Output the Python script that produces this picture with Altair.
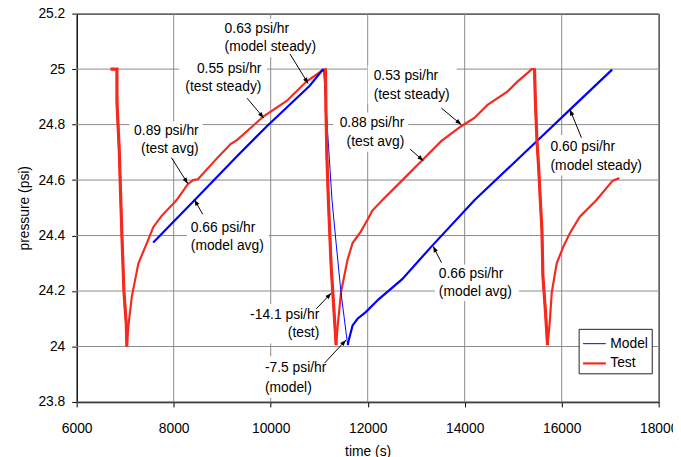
import math
import altair as alt
import pandas as pd

# ---------------- axes ----------------
X_DOMAIN = [6000, 18000]
Y_DOMAIN = [23.8, 25.2]
W, H = 589, 393
x_ticks = [6000, 8000, 10000, 12000, 14000, 16000, 18000]
y_ticks = [23.8, 24.0, 24.2, 24.4, 24.6, 24.8, 25.0, 25.2]

series_names = ["Model", "Test"]
series_colors = ["#0000FF", "#F52A1F"]
series_widths = [1.0, 2.2]

# ---------------- Test (red) ----------------
test_drop1_x = [6700, 6830, 6831, 6880, 6900, 6933, 6974, 7023, 7035]
test_drop1_y = [25.0, 25.0, 24.88, 24.70, 24.58, 24.40, 24.20, 24.08, 24.0]
test_rise1_x = [7035, 7070, 7137, 7273, 7477, 7579, 7748, 8057, 8292, 8400, 8500,
                8900, 9174, 9311, 9855, 10330, 10737, 11063, 11130]
test_rise1_y = [24.0, 24.08, 24.18, 24.30, 24.385, 24.43, 24.47, 24.527, 24.585, 24.60, 24.603,
                24.68, 24.73, 24.745, 24.83, 24.885, 24.955, 24.995, 25.0]
test_drop2_x = [11130, 11140, 11160, 11190, 11247, 11281, 11334, 11349]
test_drop2_y = [25.0, 24.85, 24.68, 24.527, 24.29, 24.195, 24.05, 24.005]
test_rise2_x = [11349, 11383, 11450, 11587, 11689, 11858, 11994, 12096, 12300, 12707,
                13115, 13522, 13930, 14201, 14472, 14880, 15083, 15322, 15380, 15440]
test_rise2_y = [24.005, 24.076, 24.195, 24.314, 24.373, 24.414, 24.456, 24.49, 24.527, 24.598,
                24.67, 24.741, 24.794, 24.824, 24.871, 24.919, 24.954, 24.99, 25.0, 25.0]
test_drop3_x = [15440, 15458, 15491, 15525, 15560, 15593, 15613, 15662, 15709]
test_drop3_y = [25.0, 24.883, 24.741, 24.646, 24.527, 24.42, 24.254, 24.136, 24.005]
test_rise3_x = [15709, 15749, 15796, 15898, 16035, 16171, 16375, 16713, 17053, 17190]
test_rise3_y = [24.005, 24.076, 24.195, 24.30, 24.36, 24.409, 24.468, 24.527, 24.598, 24.607]

# ---------------- Model (blue) ----------------
model_rise1_x = [7579, 8429, 9311, 9922, 10805, 11063, 11090]
model_rise1_y = [24.375, 24.527, 24.687, 24.794, 24.94, 24.996, 25.0]
model_drop1_x = [11090, 11265, 11349, 11450, 11587]
model_drop1_y = [25.0, 24.527, 24.373, 24.195, 24.005]
model_rise2_x = [11587, 11620, 11689, 11791, 11960, 12231, 12707, 13318, 14201, 15491, 16171, 17040]
model_rise2_y = [24.005, 24.03, 24.076, 24.10, 24.124, 24.171, 24.242, 24.361, 24.527, 24.741, 24.854, 24.998]

# ---------------- annotations ----------------
ann_left_text = ["0.63 psi/hr", "(model steady)", "0.66 psi/hr", "(model avg)",
                 "0.53 psi/hr", "(test steady)", "-7.5 psi/hr", "(model)",
                 "0.66 psi/hr", "(model avg)", "0.60 psi/hr", "(model steady)"]
ann_left_x = [9050, 9050, 8353, 8353, 12123, 12123, 9881, 9881, 13467, 13467, 15770, 15770]
ann_left_y = [25.143, 25.079, 24.426, 24.361, 24.976, 24.908, 23.922, 23.851,
              24.260, 24.195, 24.720, 24.649]

ann_right_text = ["0.55 psi/hr", "(test steady)", "0.89 psi/hr", "(test avg)",
                  "0.88 psi/hr", "(test avg)", "-14.1 psi/hr", "(test)"]
ann_right_x = [9810, 9810, 8516, 8516, 12754, 12754, 11002, 11002]
ann_right_y = [25.0, 24.937, 24.776, 24.712, 24.805, 24.737, 24.112, 24.047]

box_x0 = [8985, 8109, 7090, 8272, 12000, 11287, 9494, 9800, 13386, 15689]
box_x1 = [11063, 9922, 8598, 9963, 13834, 12836, 11083, 11247, 15118, 17807]
box_y0 = [25.043, 24.901, 24.677, 24.328, 24.876, 24.702, 24.011, 23.815, 24.164, 24.616]
box_y1 = [25.182, 25.033, 24.812, 24.463, 25.015, 24.844, 24.153, 23.965, 24.296, 24.762]

arrow_x1 = [10397, 9515, 7952, 8598, 13522, 12877, 10941, 11110, 13522, 16408]
arrow_y1 = [25.055, 24.895, 24.681, 24.477, 24.859, 24.711, 24.136, 23.94, 24.302, 24.7525]
arrow_x2 = [10772, 9855, 8292, 8429, 13930, 13148, 11247, 11552, 13351, 16171]
arrow_y2 = [24.948, 24.824, 24.587, 24.529, 24.80, 24.67, 24.192, 24.023, 24.361, 24.854]

# ---------------- build tables ----------------
def piece(series, part, xs, ys, start):
    return [{"series": series, "part": part, "ord": start + i, "x": x, "y": y}
            for i, (x, y) in enumerate(zip(xs, ys))]

rows = []
k = 0
for name, xs, ys in [("drop1", test_drop1_x, test_drop1_y), ("rise1", test_rise1_x, test_rise1_y),
                     ("drop2", test_drop2_x, test_drop2_y), ("rise2", test_rise2_x, test_rise2_y),
                     ("drop3", test_drop3_x, test_drop3_y), ("rise3", test_rise3_x, test_rise3_y)]:
    rows += piece("Test", name, xs, ys, k)
    k += len(xs)
for name, xs, ys in [("mrise1", model_rise1_x, model_rise1_y), ("mdrop1", model_drop1_x, model_drop1_y),
                     ("mrise2", model_rise2_x, model_rise2_y)]:
    rows += piece("Model", name, xs, ys, k)
    k += len(xs)
lines = pd.DataFrame(rows)
drops = lines[lines["part"].isin(["drop1", "drop2", "drop3"])]
mrises = lines[lines["part"].isin(["mrise1", "mrise2"])]

left_df = pd.DataFrame({"text": ann_left_text, "x": ann_left_x, "y": ann_left_y})
right_df = pd.DataFrame({"text": ann_right_text, "x": ann_right_x, "y": ann_right_y})
box_df = pd.DataFrame({"x": box_x0, "x2": box_x1, "y": box_y0, "y2": box_y1})
xgrid_df = pd.DataFrame({"x": x_ticks})
ygrid_df = pd.DataFrame({"y": y_ticks})

sx = W / (X_DOMAIN[1] - X_DOMAIN[0])
sy = H / (Y_DOMAIN[1] - Y_DOMAIN[0])
angles = []
for a, b, c, d in zip(arrow_x1, arrow_y1, arrow_x2, arrow_y2):
    dx = (c - a) * sx
    dy = -(d - b) * sy
    angles.append(math.degrees(math.atan2(dx, -dy)) % 360)
arrow_df = pd.DataFrame({"x": arrow_x1, "y": arrow_y1, "x2": arrow_x2, "y2": arrow_y2})
head_df = pd.DataFrame({"x": arrow_x2, "y": arrow_y2, "ang": angles})

# ---------------- encodings ----------------
GRID = "#8a8a8a"
xs_ = alt.Scale(domain=X_DOMAIN, nice=False, zero=False)
ys_ = alt.Scale(domain=Y_DOMAIN, nice=False, zero=False)
xaxis = alt.Axis(values=x_ticks, format="d", title="time (s)", labelPadding=15, titlePadding=9,
                 grid=False, labelFlush=False, labelOverlap=False)
yaxis = alt.Axis(values=y_ticks, format=".3~r", title="pressure (psi)", labelPadding=7, titlePadding=7,
                 grid=False, labelFlush=False, labelOverlap=False)

def X(f="x"):
    return alt.X(f"{f}:Q", scale=xs_, axis=xaxis)

def Y(f="y"):
    return alt.Y(f"{f}:Q", scale=ys_, axis=yaxis)

FONT = "Liberation Sans"

xgrid = alt.Chart(xgrid_df).mark_rule(color=GRID, strokeWidth=1).encode(X())
ygrid = alt.Chart(ygrid_df).mark_rule(color=GRID, strokeWidth=1).encode(Y())

boxes = alt.Chart(box_df).mark_rect(color="white").encode(X(), x2="x2:Q", y=Y(), y2="y2:Q")

leg = alt.Legend(title=None, orient="none", legendX=508, legendY=319, symbolType="stroke",
                 symbolSize=529, labelFontSize=14, labelFont=FONT, labelColor="black",
                 strokeColor="#222222", fillColor="white", padding=3, rowPadding=0,
                 labelOffset=3)

base_lines = alt.Chart(lines).mark_line(interpolate="linear").encode(
    X(), Y(),
    color=alt.Color("series:N", scale=alt.Scale(domain=series_names, range=series_colors), legend=leg),
    strokeWidth=alt.StrokeWidth("series:N", scale=alt.Scale(domain=series_names, range=series_widths), legend=leg),
    order="ord:Q",
)

model_thick = alt.Chart(mrises).mark_line(color=series_colors[0], strokeWidth=2.2).encode(
    X(), Y(), detail="part:N", order="ord:Q")

test_drops = alt.Chart(drops).mark_line(color=series_colors[1], strokeWidth=3.2).encode(
    X(), Y(), detail="part:N", order="ord:Q")

arrows = alt.Chart(arrow_df).mark_rule(color="black", strokeWidth=1).encode(
    X(), Y(), x2="x2:Q", y2="y2:Q")

heads = alt.Chart(head_df).mark_point(shape="M0,0L-0.38,1L0.38,1Z", filled=True, size=144,
                                      color="black", opacity=1, strokeWidth=0).encode(
    X(), Y(), angle=alt.Angle("ang:Q", scale=None))

left_txt = alt.Chart(left_df).mark_text(align="left", baseline="middle", fontSize=14, font=FONT,
                                        color="black").encode(X(), Y(), text="text:N")
right_txt = alt.Chart(right_df).mark_text(align="right", baseline="middle", fontSize=14, font=FONT,
                                          color="black").encode(X(), Y(), text="text:N")

chart = alt.layer(xgrid, ygrid, boxes, base_lines, model_thick, test_drops, arrows, heads,
                  left_txt, right_txt).properties(
    width=W, height=H,
    padding={"left": 69.5, "top": 3, "right": 14.5, "bottom": 53},
    autosize=alt.AutoSizeParams(type="none"),
).configure(font=FONT).configure_view(stroke="black", strokeWidth=1).configure_axis(
    labelFont=FONT, labelFontSize=14, labelColor="black",
    titleFont=FONT, titleFontSize=14, titleFontWeight="normal", titleColor="black",
    domainColor="black", domainWidth=1.5, tickColor="black", tickSize=5,
)

chart.save("out.html", embed_options={"renderer": "svg", "actions": False})
